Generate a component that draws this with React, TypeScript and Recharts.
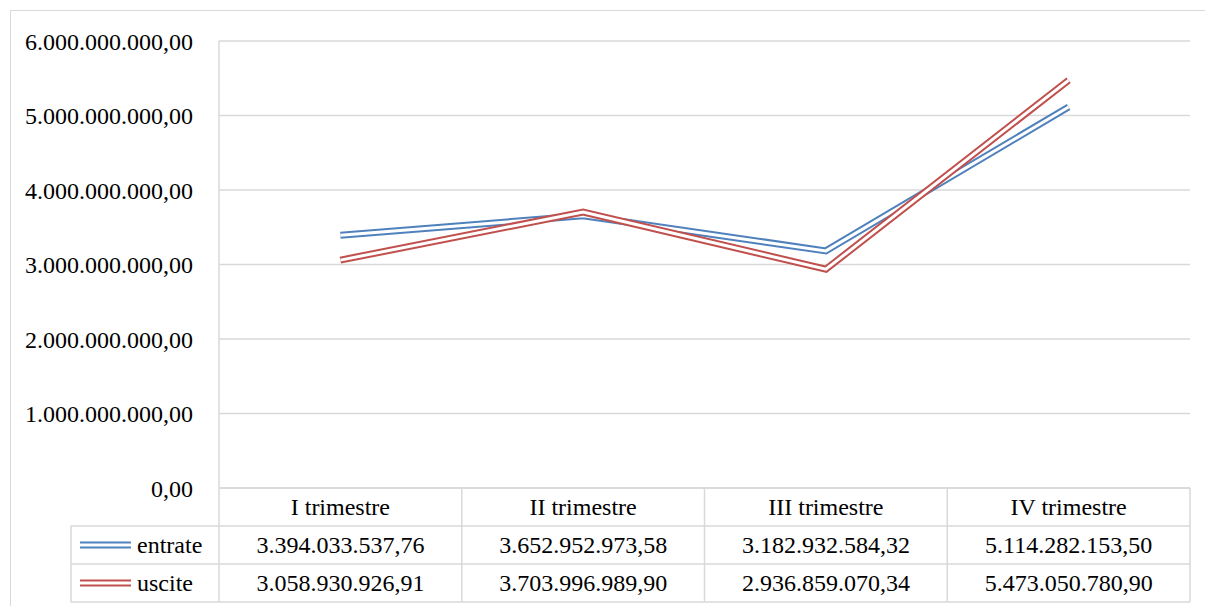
import { CartesianGrid, Line, LineChart, XAxis, YAxis } from "recharts";

const quarters = ["I trimestre", "II trimestre", "III trimestre", "IV trimestre"];
const entrate = [3394033537.76, 3652952973.58, 3182932584.32, 5114282153.5];
const uscite = [3058930926.91, 3703996989.9, 2936859070.34, 5473050780.9];
const yTicks = [0, 1e9, 2e9, 3e9, 4e9, 5e9, 6e9];

const BLUE = "#4F81BD";
const RED = "#C0504D";
const GRID = "#d9d9d9";
const FONT = '"Liberation Serif", serif';

const W = 1205;
const H = 606;
const PLOT_LEFT = 219;
const PLOT_RIGHT = 1190;
const PLOT_TOP = 41;
const PLOT_BOTTOM = 488;
const ROW_H = 38;
const TABLE_LEFT = 71;
const BAND = (PLOT_RIGHT - PLOT_LEFT) / quarters.length;

// 1234567.5 -> "1.234.567,50"
function fmt(v: number) {
  const [int, dec] = v.toFixed(2).split(".");
  return int.replace(/\B(?=(\d{3})+(?!\d))/g, ".") + "," + dec;
}

const rows = quarters.map((q, i) => ({ quarter: q, entrate: entrate[i], uscite: uscite[i] }));

const series = [
  { name: "entrate", values: entrate, color: BLUE },
  { name: "uscite", values: uscite, color: RED },
];

function DoubleKey({ x1, x2, y, color }: { x1: number; x2: number; y: number; color: string }) {
  return (
    <g>
      <line x1={x1} x2={x2} y1={y - 2.5} y2={y - 2.5} stroke={color} strokeWidth={2} />
      <line x1={x1} x2={x2} y1={y + 2.5} y2={y + 2.5} stroke={color} strokeWidth={2} />
    </g>
  );
}

// draws the data table under the plot, one column per category tick
function TableTick(props: any) {
  const { x, y, index, payload } = props;
  const left = x - BAND / 2;
  const right = x + BAND / 2;
  const bottom = y + ROW_H * 3;
  const textProps = { fontFamily: FONT, fontSize: 24, fill: "#000", dominantBaseline: "central" as const };

  return (
    <g>
      <line x1={right} x2={right} y1={y} y2={bottom} stroke={GRID} strokeWidth={1.5} />
      {[1, 2, 3].map((r) => (
        <line key={r} x1={left} x2={right} y1={y + ROW_H * r} y2={y + ROW_H * r} stroke={GRID} strokeWidth={1.5} />
      ))}
      <text x={x} y={y + ROW_H / 2} textAnchor="middle" {...textProps}>
        {payload.value}
      </text>
      {series.map((s, r) => (
        <text key={s.name} x={x} y={y + ROW_H * (r + 1.5)} textAnchor="middle" {...textProps}>
          {fmt(s.values[index])}
        </text>
      ))}
      {index === 0 && (
        <g>
          <line x1={TABLE_LEFT} x2={TABLE_LEFT} y1={y + ROW_H} y2={bottom} stroke={GRID} strokeWidth={1.5} />
          <line x1={left} x2={left} y1={y} y2={bottom} stroke={GRID} strokeWidth={1.5} />
          {[1, 2, 3].map((r) => (
            <line key={r} x1={TABLE_LEFT} x2={left} y1={y + ROW_H * r} y2={y + ROW_H * r} stroke={GRID} strokeWidth={1.5} />
          ))}
          {series.map((s, r) => (
            <g key={s.name}>
              <DoubleKey x1={80} x2={131} y={y + ROW_H * (r + 1.5)} color={s.color} />
              <text x={137} y={y + ROW_H * (r + 1.5)} textAnchor="start" {...textProps}>
                {s.name}
              </text>
            </g>
          ))}
        </g>
      )}
    </g>
  );
}

export default function App() {
  return (
    <div style={{ position: "absolute", left: 0, top: 0, width: W, height: H, background: "#fff", overflow: "hidden" }}>
      {/* outer chart frame: only its top and left edges fall inside the picture */}
      <div
        style={{
          position: "absolute",
          left: 10,
          top: 10,
          width: 1300,
          height: 700,
          border: `1.5px solid ${GRID}`,
        }}
      />
      <div style={{ position: "absolute", left: 0, top: 0 }}>
        <LineChart
          width={W}
          height={H}
          data={rows}
          margin={{ top: PLOT_TOP, right: W - PLOT_RIGHT, left: 10, bottom: 3 }}
        >
          <CartesianGrid vertical={false} stroke={GRID} strokeWidth={1.5} />
          <XAxis
            dataKey="quarter"
            height={H - PLOT_BOTTOM - 3}
            padding={{ left: BAND / 2, right: BAND / 2 }}
            tickLine={false}
            tickSize={0}
            tickMargin={0}
            axisLine={{ stroke: GRID, strokeWidth: 1.5 }}
            tick={<TableTick />}
            interval={0}
          />
          <YAxis
            width={PLOT_LEFT - 10}
            domain={[0, 6e9]}
            ticks={yTicks}
            tickFormatter={fmt}
            tickLine={false}
            tickSize={0}
            tickMargin={26}
            axisLine={{ stroke: GRID, strokeWidth: 1.5 }}
            tick={{ fontFamily: FONT, fontSize: 24, fill: "#000" }}
          />
          {series.map((s) => [
            <Line
              key={s.name + "-outer"}
              dataKey={s.name}
              type="linear"
              stroke={s.color}
              strokeWidth={7}
              dot={false}
              activeDot={false}
              isAnimationActive={false}
            />,
            <Line
              key={s.name + "-inner"}
              dataKey={s.name}
              type="linear"
              stroke="#fff"
              strokeWidth={3}
              dot={false}
              activeDot={false}
              isAnimationActive={false}
            />,
          ])}
        </LineChart>
      </div>
    </div>
  );
}
